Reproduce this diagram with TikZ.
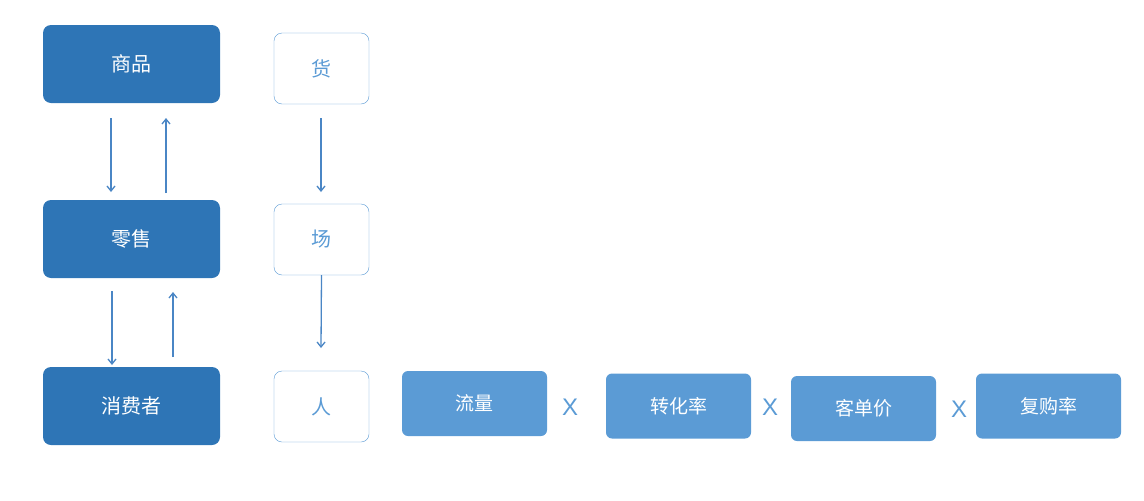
\documentclass[tikz,border=0pt]{standalone}
\usepackage{fontspec}
\setmainfont{Noto Sans CJK SC}
\setsansfont{Liberation Sans}
\usetikzlibrary{arrows.meta}
\definecolor{dark}{HTML}{2E75B6}
\definecolor{light}{HTML}{5B9BD5}
\definecolor{edge}{HTML}{4A86C5}
\tikzset{
 darkbox/.style={fill=dark,text=white,rounded corners=8pt,minimum width=177pt,minimum height=78pt,font=\fontsize{20}{24}\selectfont},
 whitebox/.style={draw=light,fill=white,text=light,rounded corners=8pt,minimum width=95pt,minimum height=71pt,font=\fontsize{20}{24}\selectfont},
 lightbox/.style={fill=light,text=white,rounded corners=6pt,minimum width=145pt,minimum height=65pt,font=\fontsize{19}{23}\selectfont},
 xmark/.style={text=light,font=\sffamily\fontsize{24}{28}\selectfont},
 arr/.style={draw=edge,line width=1.3pt,-{Straight Barb[length=5pt,width=8pt]}}
}
\begin{document}
\begin{tikzpicture}[x=1pt,y=-1pt]
\useasboundingbox (0,0) rectangle (1144,501);
\node[darkbox] (sp) at (131.5,64) {商品};
\node[darkbox] (ls) at (131.5,239) {零售};
\node[darkbox] (xf) at (131.5,406) {消费者};
\node[whitebox] (h) at (321.5,68.5) {货};
\node[whitebox] (c) at (321.5,239.5) {场};
\node[whitebox] (r) at (321.5,406.5) {人};
\node[lightbox] (ll) at (474.5,403.5) {流量};
\node[lightbox] (zh) at (678.5,406) {转化率};
\node[lightbox] (kd) at (863.5,408.5) {客单价};
\node[lightbox] (fg) at (1048.5,406) {复购率};
\node[xmark] (x1) at (570,407) {X};
\node[xmark] (x2) at (770,407) {X};
\node[xmark] (x3) at (959,409) {X};
\coordinate (a1s) at (111,118); \coordinate (a1e) at (111,192);
\coordinate (a2s) at (166,193); \coordinate (a2e) at (166,118);
\coordinate (a3s) at (112,291); \coordinate (a3e) at (112,365);
\coordinate (a4s) at (173,357); \coordinate (a4e) at (173,292);
\coordinate (a5s) at (321,118); \coordinate (a5e) at (321,192);
\coordinate (a6e) at (321,348);
\draw[arr] (a1s) -- (a1e);
\draw[arr] (a2s) -- (a2e);
\draw[arr] (a3s) -- (a3e);
\draw[arr] (a4s) -- (a4e);
\draw[arr] (a5s) -- (a5e);
\draw[arr] (c.south) -- (a6e);
\end{tikzpicture}
\end{document}
